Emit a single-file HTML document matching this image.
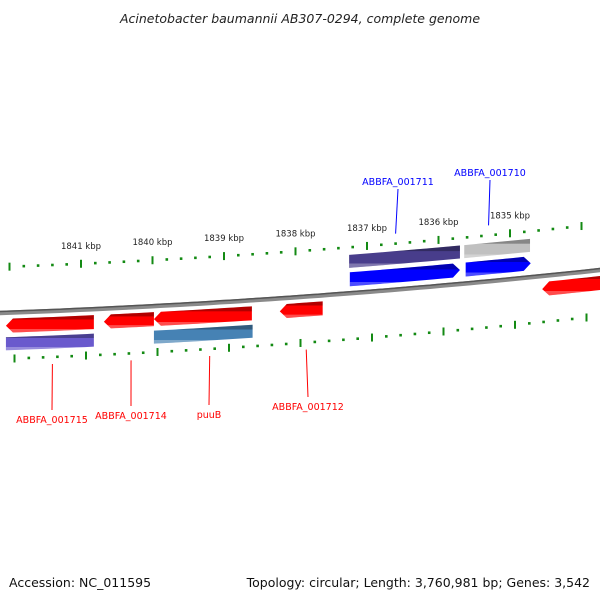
<!DOCTYPE html>
<html><head><meta charset="utf-8"><style>
body{margin:0;background:#fff}
svg{display:block;font-family:"DejaVu Sans","Liberation Sans",sans-serif}
</style></head><body>
<svg id="map" width="600" height="600" viewBox="0 0 600 600">
<defs>
<linearGradient id="shade" x1="0" y1="0" x2="0" y2="1"><stop offset="0" stop-color="#000" stop-opacity="0.3"/><stop offset="0.25" stop-color="#000" stop-opacity="0.3"/><stop offset="0.26" stop-color="#000" stop-opacity="0"/><stop offset="0.8" stop-color="#fff" stop-opacity="0"/><stop offset="0.81" stop-color="#fff" stop-opacity="0.3"/><stop offset="1" stop-color="#fff" stop-opacity="0.3"/></linearGradient>
</defs>
<text x="300" y="23" text-anchor="middle" font-size="12.5" font-style="italic" fill="#222">Acinetobacter baumannii AB307-0294, complete genome</text>
<g id="g"></g>
<text x="9" y="587" font-size="12.5" fill="#111">Accession: NC_011595</text>
<text x="590" y="587" text-anchor="end" font-size="12.5" fill="#111">Topology: circular; Length: 3,760,981 bp; Genes: 3,542</text>
</svg>
<script>
const tickKbp=[1842,1841,1840,1839,1838,1837,1836,1835,1834];
const tickLabelKbp=[1841,1840,1839,1838,1837,1836,1835];
const featNames=["ABBFA_001715","ABBFA_001714","puuB","ABBFA_001712","gene-right","ABBFA_001711","ABBFA_001710","cds-001715","cds-puuB","cds-001711","cds-001710"];
const featStart=[1842.05,1840.68,1839.98,1838.22,1834.55,1837.24,1835.62,1842.05,1839.98,1837.25,1835.64];
const featEnd=[1840.82,1839.98,1838.61,1837.62,1833.4,1835.70,1834.71,1840.82,1838.60,1835.70,1834.72];
const featStrand=[-1,-1,-1,-1,-1,1,1,0,0,0,0];
const featTrack=[13,13,13,13,13,-14,-14,31,31,-32,-32];
const featColor=["#ff0000","#ff0000","#ff0000","#ff0000","#ff0000","#0000ff","#0000ff","#6a5acd","#4682b4","#483d8b","#c0c0c0"];
const labelNames=["ABBFA_001715","ABBFA_001714","puuB","ABBFA_001712","ABBFA_001711","ABBFA_001710"];
const labelKbp=[1841.4,1840.3,1839.2,1837.85,1836.6,1835.3];
const labelColor=["#ff0000","#ff0000","#ff0000","#ff0000","#0000ff","#0000ff"];
const labelTx=[52,131,209,308,398,490];
const labelTy=[423,419,418,410,185,176];

const NS="http://www.w3.org/2000/svg";
const g=document.getElementById('g');
const X=k=>81+(1841-k)*71.5;
const Y=x=>313-0.035*x-6.1e-5*x*x;
function mk(t,a,p){const e=document.createElementNS(NS,t);for(const k in a)e.setAttribute(k,a[k]);(p||g).appendChild(e);return e;}
// backbone
let d="";for(let x=-10;x<=610;x+=10)d+=(x<0?"M":"L")+x+","+Y(x).toFixed(1);
let bb=mk('path',{d:d,stroke:"#8a8a8a","stroke-width":4.5,fill:"none"});

let bb2=mk('path',{d:d,stroke:"#555","stroke-width":1.5,fill:"none",transform:"translate(0,-1.5)"});

// ticks
function ticks(off,shift,name){
 const first=tickKbp[0],last=tickKbp[tickKbp.length-1];
 for(let i=Math.round(first*5);i>=Math.round(last*5);i--){
  const k=i/5;const x=X(k)+shift;if(x<0||x>600)continue;const y=Y(x)+off;
  const major=(i%5===0);
  const t=mk('line',{x1:x,x2:x,y1:major?y-4:y-1.3,y2:major?y+4:y+1.3,stroke:"#138a13","stroke-width":major?2:2.6});
  
  
 }
}
ticks(-46,0,'outer');ticks(46,5,'inner');
tickLabelKbp.forEach(k=>{const x=X(k);const t=mk('text',{x:x,y:Y(x)-61,"text-anchor":"middle","font-size":"8.5",fill:"#222"});t.textContent=k+" kbp";
 });
// features
featStart.forEach((s,i)=>{
 const x1=Math.min(X(s),X(featEnd[i])),x2=Math.max(X(s),X(featEnd[i]));
 const h=featStrand[i]===0?13:14,o=featTrack[i],ah=7;
 const sx=featStrand[i]===-1?x1+ah:x1,ex=featStrand[i]===1?x2-ah:x2;
 const top=[],bot=[];
 const n=10;for(let j=0;j<=n;j++){const x=sx+(ex-sx)*j/n;top.push([x,Y(x)+o-h/2]);bot.push([x,Y(x)+o+h/2]);}
 let pts=top.map(p=>p.join(','));
 if(featStrand[i]===1)pts.push(x2+","+(Y(x2)+o));
 pts=pts.concat(bot.reverse().map(p=>p.join(',')));
 if(featStrand[i]===-1)pts.push(x1+","+(Y(x1)+o));
 const p=mk('polygon',{points:pts.join(' '),fill:featColor[i]});
 
 const q=mk('polygon',{points:pts.join(' '),fill:"url(#shade)"});
 
});
// labels
labelNames.forEach((nm,i)=>{
 const x=X(labelKbp[i]);const up=labelTy[i]<300;
 const y0=up?Y(x)-56:Y(x)+53;
 const l=mk('line',{x1:x,y1:y0,x2:labelTx[i],y2:up?labelTy[i]+4:labelTy[i]-13,stroke:labelColor[i],"stroke-width":1});
 
 const t=mk('text',{x:labelTx[i],y:labelTy[i],"text-anchor":"middle","font-size":"9.5",fill:labelColor[i]});t.textContent=nm;
 
});
</script>
</body></html>
